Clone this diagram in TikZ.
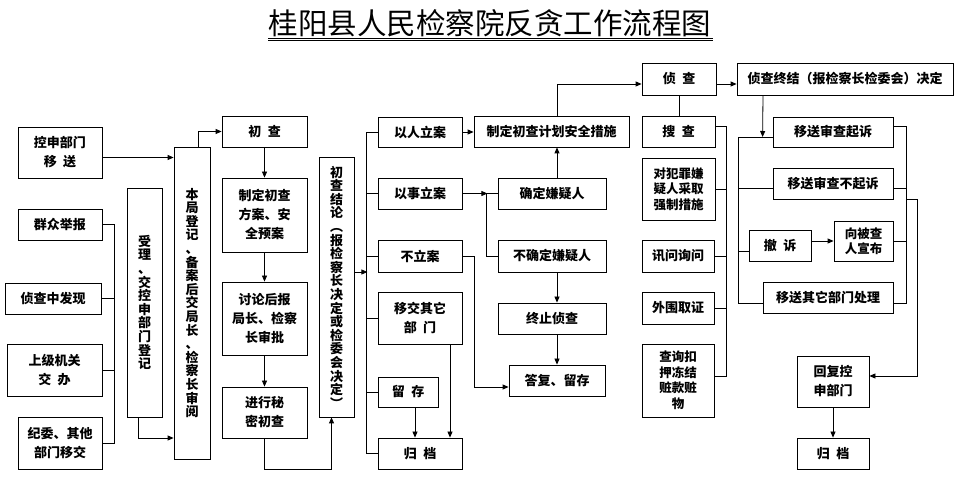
\documentclass[tikz,border=0pt]{standalone}
\usepackage{fontspec}
\newfontfamily\cjk{Noto Sans CJK SC}
\usetikzlibrary{arrows.meta}

\tikzset{
  kuang/.style={draw, line width=0.8pt, align=center, inner sep=0pt,
    font=\cjk\bfseries\fontsize{13}{19}\selectfont},
  mi/.style={kuang, font=\cjk\bfseries\fontsize{12.5}{15.5}\selectfont},
  shu/.style={kuang, font=\cjk\bfseries\fontsize{13}{13.6}\selectfont},
  xian/.style={line width=0.8pt},
  jian/.style={xian, -{Triangle[length=6pt,width=5pt]}}
}

\begin{document}
\begin{tikzpicture}[x=1pt,y=-1pt]
\useasboundingbox (0,0) rectangle (962,494);
% title
\node[font=\cjk\fontsize{29.5}{30}\selectfont, inner sep=0pt] (title) at (490,23) {桂阳县人民检察院反贪工作流程图};
\draw[xian] (268,38.2) -- (713,38.2);
\draw[xian] (268,40.8) -- (713,40.8);

% left column
\node[kuang, minimum width=84, minimum height=51] (kongshen) at (60,152.5) {控申部门\\移\enspace 送};
\node[kuang, minimum width=84, minimum height=31] (qunzhong) at (60,224.5) {群众举报};
\node[kuang, minimum width=96, minimum height=31] (faxian) at (53,298.5) {侦查中发现};
\node[kuang, minimum width=95, minimum height=52] (shangji) at (54.5,370) {上级机关\\交\enspace 办};
\node[kuang, minimum width=84, minimum height=52] (jiwei) at (60,443) {纪委、其他\\部门移交};
\node[shu, minimum width=35, minimum height=229] (shouli) at (144.5,302.5) {受\\理\\、\\交\\控\\申\\部\\门\\登\\记};
\node[shu, minimum width=36, minimum height=312] (benju) at (192,303) {本\\局\\登\\记\\、\\备\\案\\后\\交\\局\\长\\、\\检\\察\\长\\审\\阅};

% chucha
\node[kuang, minimum width=85, minimum height=31] (chucha) at (264.5,131.5) {初\enspace 查};
\node[kuang, minimum width=85, minimum height=74] (fangan) at (264.5,215) {制定初查\\方案、安\\全预案};
\node[kuang, minimum width=85, minimum height=73] (shenpi) at (264.5,318.5) {讨论后报\\局长、检察\\长审批};
\node[kuang, minimum width=85, minimum height=51] (mimi) at (264.5,412.5) {进行秘\\密初查};
\node[shu, minimum width=35, minimum height=260] (jielun) at (336.5,287) {初\\查\\结\\论\\︵\\报\\检\\察\\长\\决\\定\\或\\检\\委\\会\\决\\定\\︶};

% lian / bu lian
\node[kuang, minimum width=84, minimum height=30] (yiren) at (420,132) {以人立案};
\node[kuang, minimum width=84, minimum height=31] (yishi) at (420,193.5) {以事立案};
\node[kuang, minimum width=84, minimum height=32] (buli) at (420,256) {不立案};
\node[kuang, minimum width=84, minimum height=52] (yijiao) at (420,318) {移交其它\\部\enspace 门};
\node[kuang, minimum width=60, minimum height=30] (liucun) at (408,392) {留\enspace 存};
\node[kuang, minimum width=84, minimum height=31] (guidang) at (420,453.5) {归\enspace 档};
\node[kuang, minimum width=155, minimum height=31] (jihua) at (551.5,131.5) {制定初查计划安全措施};
\node[kuang, minimum width=108, minimum height=31] (queding) at (552,193.5) {确定嫌疑人};
\node[kuang, minimum width=108, minimum height=32] (buqueding) at (552,256) {不确定嫌疑人};
\node[kuang, minimum width=108, minimum height=31] (zhongzhi) at (552,318.5) {终止侦查};
\node[kuang, minimum width=96, minimum height=31] (dafu) at (557,380.5) {答复、留存};

% zhencha
\node[kuang, minimum width=74, minimum height=32] (zhencha) at (679,79) {侦\enspace 查};
\node[kuang, minimum width=216, minimum height=32] (zhongjie) at (845,79) {侦查终结（报检察长检委会）决定};
\node[kuang, minimum width=73, minimum height=31] (soucha) at (678.5,131.5) {搜\enspace 查};
\node[mi, minimum width=73, minimum height=62] (qiangzhi) at (678.5,189) {对犯罪嫌\\疑人采取\\强制措施};
\node[kuang, minimum width=72, minimum height=32] (xunwen) at (678,256) {讯问询问};
\node[kuang, minimum width=72, minimum height=32] (quzheng) at (678,308) {外围取证};
\node[mi, minimum width=72, minimum height=73] (dongjie) at (678,380.5) {查询扣\\押冻结\\赃款赃\\物};
\node[kuang, minimum width=120, minimum height=30] (qisu) at (833,132) {移送审查起诉};
\node[kuang, minimum width=120, minimum height=31] (buqisu) at (833,183.5) {移送审查不起诉};
\node[kuang, minimum width=62, minimum height=31] (chesu) at (780,245.5) {撤\enspace 诉};
\node[mi, minimum width=59, minimum height=40] (xuanbu) at (863.5,241) {向被查\\人宣布};
\node[kuang, minimum width=130, minimum height=31] (qita) at (828,297.5) {移送其它部门处理};
\node[kuang, minimum width=72, minimum height=51] (huifu) at (833,381.5) {回复控\\申部门};
\node[kuang, minimum width=72, minimum height=31] (guidang2) at (833,453.5) {归\enspace 档};

% connectors, left part
\draw[jian] ([yshift=-5]kongshen.east) -- ([yshift=-5]kongshen.east -| benju.west);
\draw[xian] (qunzhong.east) -- ++(12,0) |- (jiwei.east);
\draw[xian] (faxian.east) -- ++(13,0);
\draw[xian] (shangji.east) -- ++(12,0);
\draw[jian] ([xshift=-6]shouli.south) |- ([yshift=-135]benju.west);
\draw[jian] ([xshift=6]benju.north) |- (chucha.west);
\draw[jian] (chucha) -- (fangan);
\draw[jian] (fangan) -- (shenpi);
\draw[jian] (shenpi) -- (mimi);
\draw[jian] (mimi.south) -- ++(0,31) -| ([xshift=-5]jielun.south);
\draw[jian] ([yshift=15]jielun.east) -- ++(13,0);

% connectors, middle part
\draw[xian] (yiren.west) -- ++(-11,0) |- (guidang.west);
\draw[xian] (yishi.west) -- ++(-11,0);
\draw[xian] (buli.west) -- ++(-11,0);
\draw[xian] (yijiao.west) -- ++(-11,0);
\draw[xian] (liucun.west) -- ++(-11,0);
\draw[jian] (yiren.east) -- (yiren.east -| jihua.west);
\draw[jian] (yishi.east) -- ++(25,0);
\draw[xian] (queding.west) -- ++(-11,0) |- (buqueding.west);
\draw[jian] ([xshift=5]queding.north) -- ([xshift=5]queding.north |- jihua.south);
\draw[jian] ([xshift=5]buqueding.south) -- ([xshift=5]zhongzhi.north);
\draw[jian] ([xshift=5]zhongzhi.south) -- (dafu.north);
\draw[jian] (buli.east) -- ++(12,0) |- ([yshift=-6.5]dafu.west);
\draw[jian] ([xshift=30]yijiao.south) -- ([xshift=30]guidang.north);
\draw[jian] ([xshift=7]liucun.south) -- ([xshift=7]liucun.south |- guidang.north);
\draw[jian] ([xshift=5.5]jihua.north) |- ([yshift=-5]zhencha.west);

% connectors, right part
\draw[jian] ([yshift=-5]zhencha.east) -- ([yshift=-5]zhongjie.west);
\draw[xian] (zhencha.south) -- (zhencha.south |- soucha.north);
\draw[xian] ([yshift=5]soucha.east) -- ++(11,0) |- ([yshift=4]dongjie.east);
\draw[xian] (qiangzhi.east) -- ++(11,0);
\draw[xian] (xunwen.east) -- ++(12,0);
\draw[xian] (quzheng.east) -- ++(12,0);
\draw[jian] ([xshift=-82]zhongjie.south) -- ([xshift=-10,yshift=-5]qisu.west);
\draw[xian] ([yshift=-5]qisu.west) -- ++(-34,0) |- ([yshift=-5.5]qita.west);
\draw[xian] ([yshift=-4.5]buqisu.west) -- ++(-34,0);
\draw[xian] ([yshift=-5.5]chesu.west) -- ++(-10,0);
\draw[jian] (chesu.east |- xuanbu.west) -- (xuanbu.west);
\draw[xian] ([yshift=6]qisu.east) -- ++(13,0) |- ([yshift=-5.5]qita.east);
\draw[xian] ([yshift=-4.5]buqisu.east) -- ++(13,0);
\draw[xian] (xuanbu.east) -- ++(13,0);
\draw[jian] ([xshift=13]buqisu.south east) -- ++(11,0) |- ([yshift=5.5]huifu.east);
\draw[jian] (huifu) -- (guidang2);
\end{tikzpicture}
\end{document}
